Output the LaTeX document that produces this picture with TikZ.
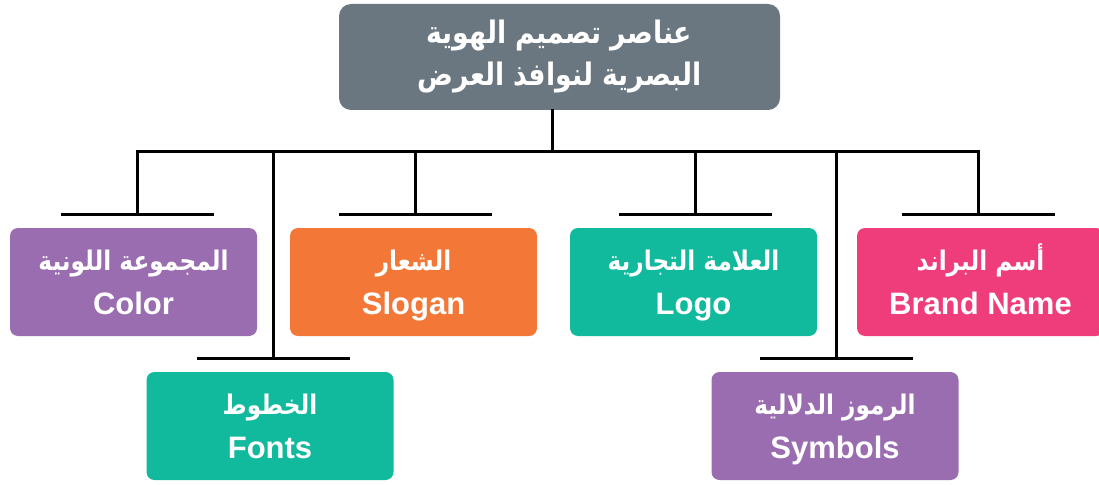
\documentclass[tikz,border=0pt]{standalone}
\usepackage{fontspec}
\setmainfont{Liberation Sans}
\newfontfamily\arabicfont[Script=Arabic, FakeStretch=0.86]{DejaVu Sans}
\TeXXeTstate=1
\usepackage{tikz}
\usetikzlibrary{positioning, calc}

\definecolor{titlegray}{HTML}{6A7780}
\definecolor{boxpurple}{HTML}{9A6DB0}
\definecolor{boxorange}{HTML}{F37838}
\definecolor{boxteal}{HTML}{11B99D}
\definecolor{boxpink}{HTML}{EF3D7B}

\tikzset{
  item/.style={rectangle, rounded corners=8pt, minimum width=247pt, minimum height=108pt,
    text=white, align=center, inner sep=0pt, font=\bfseries\fontsize{31}{44}\selectfont},
  link/.style={line width=3pt, line cap=rect},
}
\newcommand{\ar}[1]{{\arabicfont\bfseries\fontsize{27}{44}\selectfont\rule{0pt}{30pt}\beginR #1\endR}}
\newcommand{\en}[1]{#1\rule[-9pt]{0pt}{9pt}}

\begin{document}
\begin{tikzpicture}[x=1pt, y=-1pt]
  \useasboundingbox (0,0) rectangle (1099,484);

  % Title
  \node[item, fill=titlegray, rounded corners=12pt, minimum width=441pt, minimum height=106pt,
        font=\arabicfont\bfseries\fontsize{31}{42}\selectfont] (title) at (559.5,57)
    {\beginR عناصر تصميم الهوية\endR\\\beginR البصرية لنوافذ العرض\endR};

  % Upper row
  \node[item, fill=boxpurple] (color)  at (133.5,282) {\ar{المجموعة اللونية}\\\en{Color}};
  \node[item, fill=boxorange] (slogan) at (413.5,282) {\ar{الشعار}\\\en{Slogan}};
  \node[item, fill=boxteal]   (logo)   at (693.5,282) {\ar{العلامة التجارية}\\\en{Logo}};
  \node[item, fill=boxpink]   (brand)  at (980.5,282) {\ar{أسم البراند}\\\en{Brand Name}};

  % Lower row
  \node[item, fill=boxteal]   (fonts)   at (270,426) {\ar{الخطوط}\\\en{Fonts}};
  \node[item, fill=boxpurple] (symbols) at (835,426) {\ar{الرموز الدلالية}\\\en{Symbols}};

  % Hub and bar
  \coordinate (hub) at (552,151);
  \draw[link] (title.south -| hub) -- (hub);
  \draw[link] (137,151) coordinate (barL) -- (978,151) coordinate (barR);

  % Short drops to upper row
  \foreach \n/\x in {color/137, slogan/415, logo/695, brand/978} {
    \coordinate (tee-\n) at (\x,214);
    \draw[link] (\x,151) -- (tee-\n);
    \draw[link] ($(tee-\n)+(-75,0)$) -- ($(tee-\n)+(75,0)$);
  }

  % Long drops to lower row
  \foreach \n/\x in {fonts/273, symbols/836} {
    \coordinate (tee-\n) at (\x,358);
    \draw[link] (\x,151) -- (tee-\n);
    \draw[link] ($(tee-\n)+(-75,0)$) -- ($(tee-\n)+(75,0)$);
  }
\end{tikzpicture}
\end{document}
